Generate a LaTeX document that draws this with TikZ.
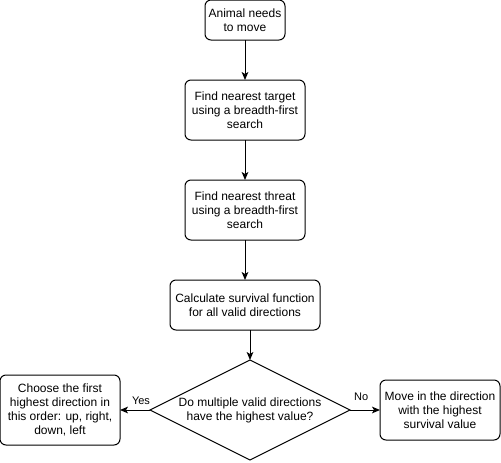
\documentclass[tikz,border=0pt]{standalone}
\usepackage{fontspec}
\setmainfont{Liberation Sans}
\usetikzlibrary{arrows.meta, positioning, shapes.geometric}

\begin{document}
\begin{tikzpicture}[x=0.75pt,y=-0.75pt,node distance=30pt,line width=0.75pt,
    >={Stealth[length=6pt,width=5pt,inset=1.5pt]},
    font=\fontsize{9}{10.5}\selectfont]
  \tikzstyle{procbox}=[draw,rounded corners=4.5pt,align=center,inner sep=0pt,outer sep=0pt]
  \tikzstyle{decision}=[draw,diamond,inner sep=0pt,outer sep=0pt,
                        minimum width=150pt,minimum height=75pt]
  \tikzstyle{answer}=[inner sep=0pt,font=\fontsize{8.25}{10}\selectfont]

  \useasboundingbox (0,0) rectangle (501,462);

  \node[procbox,minimum width=60pt,minimum height=30pt]    (start)  at (245,20)       {Animal needs\\to move};
  \node[procbox,minimum width=90pt,minimum height=45pt]    (target) [below=of start]  {Find nearest target\\using a breadth-first\\search};
  \node[procbox,minimum width=90pt,minimum height=45pt]    (threat) [below=of target] {Find nearest threat\\using a breadth-first\\search};
  \node[procbox,minimum width=112.5pt,minimum height=37.5pt] (calc) [below=of threat] {Calculate survival function\\for all valid directions};
  \node[decision,label={[align=center]center:Do multiple valid directions\\have the highest value?}]
                                                           (dia)    [below=22.5pt of calc,xshift=3.75pt] {};
  \node[procbox,minimum width=90pt,minimum height=52.5pt]  (choose) [left=22.5pt of dia]  {Choose the first\\highest direction in\\this order: up, right,\\down, left};
  \node[procbox,minimum width=90pt,minimum height=45pt]    (move)   [right=22.5pt of dia] {Move in the direction\\with the highest\\survival value};

  \path[->]
  (start)                   edge                                       (target)
  (target)                  edge                                       (threat)
  (threat)                  edge                                       (calc)
  (dia.north |- calc.south) edge                                       (dia)
  (dia)                     edge node[answer,above=3.75pt,pos=0.3]  {Yes} (choose)
  (dia)                     edge node[answer,above=7pt,pos=0.37]    {No}  (move)
  ;
\end{tikzpicture}
\end{document}
